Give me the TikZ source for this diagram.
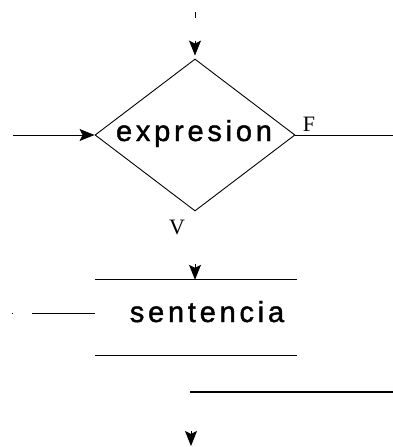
\documentclass[tikz,border=0pt]{standalone}
\usepackage{fontspec}
\setmainfont{Liberation Serif}
\newfontfamily\lblfont[LetterSpace=13,FakeBold=1.5]{Liberation Sans}
\usetikzlibrary{shapes.geometric,arrows.meta}
\begin{document}
\begin{tikzpicture}[x=1pt,y=-1pt,
  thinline/.style={line width=0.9pt},
  barline/.style={line width=1.2pt},
  arr/.style={-{Stealth[length=15pt,width=12pt,inset=3pt]},line width=0.9pt},
  cond/.style={draw,diamond,line width=0.9pt,inner sep=0pt,minimum width=200pt,minimum height=152pt,aspect=1.33},
  lbl/.style={font=\fontsize{22}{24}\selectfont,inner sep=0pt},
  txt/.style={font=\lblfont\fontsize{29}{32}\selectfont,inner sep=0pt}]
\useasboundingbox (0,0) rectangle (393,447);
% decision
\node[cond] (cond) at (195,135) {};
\node[txt,anchor=base] (condtext) at (194,141) {expresion};
\node[lbl] (f) at (309,124) {F};
\node[lbl] (v) at (177,227) {V};
% body
\node[minimum width=202pt,minimum height=75pt,inner sep=0pt] (body) at (196,317.5) {};
\node[txt,anchor=base] (bodytext) at (207,322) {sentencia};
\draw[barline] (body.north west) -- (body.north east);
\draw[barline] (body.south west) -- (body.south east);
% coordinates
\coordinate (topmark) at (195,12);
\coordinate (topmarkb) at (195,18);
\coordinate (inleft) at (13,135);
\coordinate (fout) at (393,135);
\coordinate (loopin) at (12,313);
\coordinate (exitl) at (190,392);
\coordinate (exitr) at (393,392);
\coordinate (endtip) at (191,446);
% connectors
\draw[thinline] (topmark) -- (topmarkb);
\draw[arr,shorten >=3pt] ([yshift=18pt]cond.north) -- (cond.north);
\draw[arr] (inleft) -- (cond.west);
\draw[thinline] (cond.east) -- (fout);
\draw[arr] ([yshift=16pt]cond.south |- body.north) -- (cond.south |- body.north);
\draw[thinline,dash pattern=on 1pt off 19pt on 66pt] (loopin) -- (loopin -| body.west);
\draw[barline] (exitl) -- (exitr);
\draw[arr] ([yshift=15pt]endtip) -- (endtip);
\end{tikzpicture}
\end{document}
